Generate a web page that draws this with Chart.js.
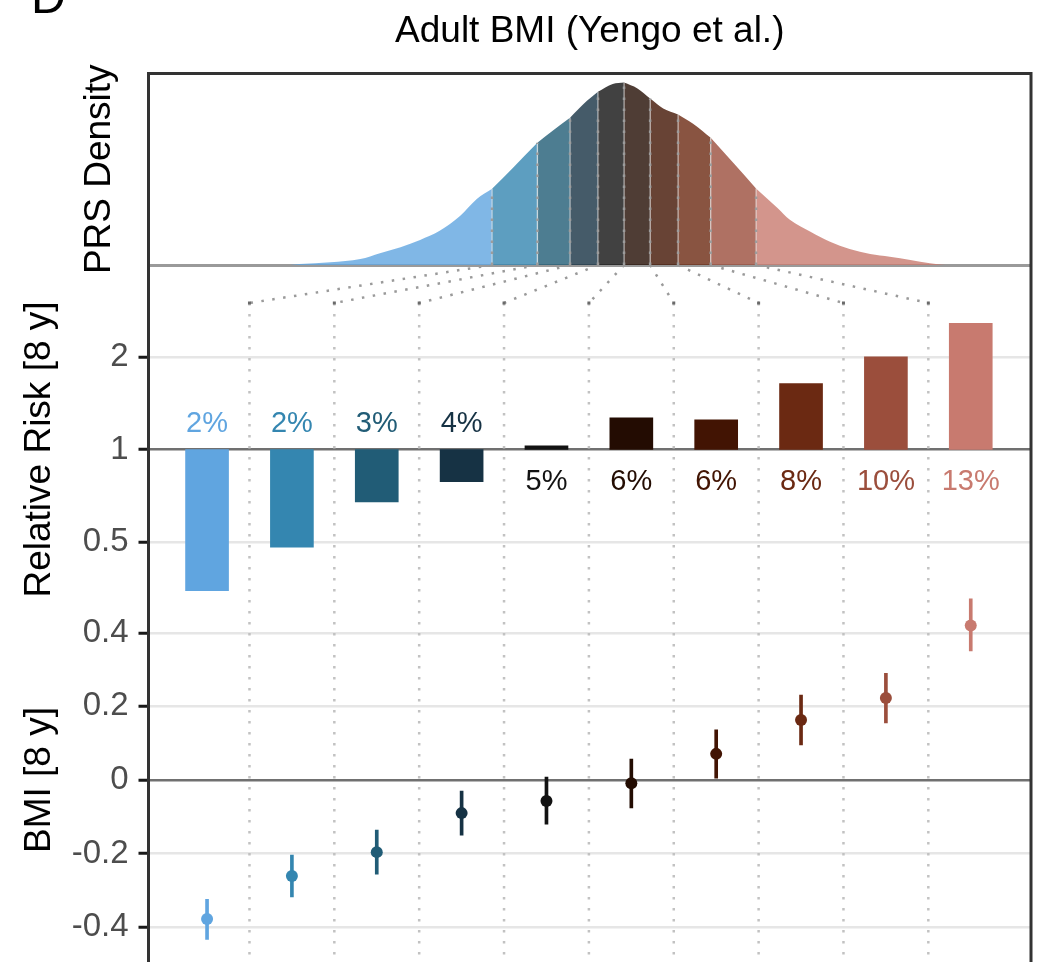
<!DOCTYPE html>
<html>
<head>
<meta charset="utf-8">
<script src="https://cdn.jsdelivr.net/npm/chart.js@4.4.1/dist/chart.umd.min.js"></script>
<style>
  html, body { margin: 0; padding: 0; background: #fff; overflow: hidden; }
  #wrap { position: relative; width: 1043px; height: 962px; overflow: hidden; }
  #panelTag { position: absolute; left: 31px; top: -27px; font-family: "Liberation Sans", Arial, sans-serif; font-size: 48px; line-height: 48px; color: #000; }
</style>
</head>
<body>
<div id="wrap">
  <canvas id="prsChart" width="1043" height="972"></canvas>
  <div id="panelTag">D</div>
</div>
<script>
// PRS deciles
var deciles = [1, 2, 3, 4, 5, 6, 7, 8, 9, 10]
var riskLabels = ['2%', '2%', '3%', '4%', '5%', '6%', '6%', '8%', '10%', '13%']

// relative risk per decile (8 y)
var relRisk = [0.347, 0.481, 0.675, 0.785, 1.027, 1.268, 1.249, 1.638, 2.005, 2.574]

// BMI change per decile (8 y) with interval
var bmiMean = [-0.378, -0.261, -0.196, -0.090, -0.057, -0.009, 0.071, 0.163, 0.223, 0.420]
var bmiLow = [-0.433, -0.318, -0.256, -0.150, -0.120, -0.076, 0.005, 0.095, 0.155, 0.351]
var bmiHigh = [-0.324, -0.204, -0.136, -0.030, 0.008, 0.057, 0.136, 0.231, 0.290, 0.492]

// PRS density curve (standardised score) and decile cut points
var densityX = [-3.24, -3.15, -2.85, -2.56, -2.37, -2.17, -1.98, -1.79, -1.59, -1.43, -1.2816, -1.08, -0.8416, -0.69, -0.5244, -0.36, -0.2533, -0.11, 0, 0.13, 0.2533, 0.38, 0.5244, 0.67, 0.8416, 1.06, 1.2816, 1.49, 1.61, 1.81, 2.0, 2.19, 2.39, 2.58, 2.78, 2.97, 3.12]
var densityY = [0, 0.002, 0.006, 0.013, 0.026, 0.039, 0.055, 0.075, 0.108, 0.145, 0.167, 0.213, 0.268, 0.295, 0.323, 0.360, 0.380, 0.397, 0.400, 0.387, 0.365, 0.343, 0.330, 0.310, 0.279, 0.224, 0.168, 0.125, 0.099, 0.073, 0.051, 0.035, 0.024, 0.018, 0.011, 0.004, 0]
var decileBreaks = [-1.2816, -0.8416, -0.5244, -0.2533, 0, 0.2533, 0.5244, 0.8416, 1.2816]

// axis ticks
var rrTicks = [0.5, 1, 2]
var bmiTicks = [-0.4, -0.2, 0, 0.2, 0.4]

var palette = ['#60a5e0', '#3486b0', '#215c76', '#163244', '#121212', '#230c02', '#421403', '#6b2912', '#9b4e3c', '#c87a6f']
var fontFamily = '"Liberation Sans", Arial, sans-serif'

function withAlpha(hex, a) {
  var n = parseInt(hex.slice(1), 16)
  return 'rgba(' + (n >> 16) + ',' + ((n >> 8) & 255) + ',' + (n & 255) + ',' + a + ')'
}

// split the density curve into the ten decile areas
function decileSegment(k) {
  var lo = k === 0 ? -Infinity : decileBreaks[k - 1]
  var hi = k === 9 ? Infinity : decileBreaks[k]
  var pts = []
  densityX.forEach(function (x, i) {
    if (x >= lo && x <= hi) pts.push({ x: x, y: densityY[i] })
  })
  return pts
}

// all stacked y axes share one width, no extra padding for edge labels
function fixWidth(scale) {
  scale.width = 147
  scale.paddingTop = 0
  scale.paddingBottom = 0
}

var datasets = []

// points + error bars (bottom panel)
datasets.push({
  type: 'line', label: 'BMI', xAxisID: 'x', yAxisID: 'yb',
  data: deciles.map(function (d, i) { return { x: d, y: bmiMean[i] } }),
  showLine: false, pointRadius: 6, pointBorderWidth: 0,
  pointBackgroundColor: palette, pointBorderColor: palette, order: 0
})
datasets.push({
  type: 'bar', label: 'BMI interval', xAxisID: 'x', yAxisID: 'yb',
  data: deciles.map(function (d, i) { return { x: d, y: [bmiLow[i], bmiHigh[i]] } }),
  backgroundColor: palette, barThickness: 3, grouped: false, order: 1
})

// relative risk bars (middle panel), drawn from 1
datasets.push({
  type: 'bar', label: 'Relative risk', xAxisID: 'x', yAxisID: 'yr',
  data: deciles.map(function (d, i) { return { x: d, y: [1, relRisk[i]] } }),
  backgroundColor: palette, barThickness: 43, grouped: false, order: 1
})

// density areas (top panel)
var densityStart = datasets.length
for (var k = 0; k < 10; k++) {
  datasets.push({
    type: 'line', label: 'Decile ' + (k + 1), xAxisID: 'xd', yAxisID: 'yd',
    data: decileSegment(k),
    fill: 'origin', backgroundColor: withAlpha(palette[k], 0.8),
    borderWidth: 0, pointRadius: 0, cubicInterpolationMode: 'monotone', order: 2
  })
}

var guides = {
  id: 'guides',
  beforeDatasetsDraw: function (chart) {
    var ctx = chart.ctx, s = chart.scales, area = chart.chartArea
    var yTop = s.yc.getPixelForValue(1), yBot = s.yc.getPixelForValue(0)
    ctx.save()
    ctx.lineWidth = 2.5
    ctx.setLineDash([2.5, 8.5])
    decileBreaks.forEach(function (b, k) {
      var bx = s.xd.getPixelForValue(b)
      var mx = s.x.getPixelForValue(k + 1.5)
      ctx.strokeStyle = '#9a9a9a'
      ctx.beginPath(); ctx.moveTo(bx, yTop); ctx.lineTo(mx, yBot); ctx.stroke()
      ctx.strokeStyle = '#c2c2c2'
      ctx.beginPath(); ctx.moveTo(mx, yBot); ctx.lineTo(mx, area.bottom); ctx.stroke()
      ctx.fillStyle = '#6a6a6a'
      ctx.fillRect(mx - 1.5, yBot - 1.5, 3, 3)
    })
    ctx.restore()
  },
  afterDatasetsDraw: function (chart) {
    var ctx = chart.ctx, s = chart.scales
    var base = s.yd.getPixelForValue(0)
    ctx.save()
    // decile boundaries inside the density
    decileBreaks.forEach(function (b, k) {
      var pt = chart.getDatasetMeta(densityStart + k + 1).data[0]
      ctx.setLineDash([])
      ctx.lineWidth = 1.5
      ctx.strokeStyle = 'rgba(235,235,235,0.5)'
      ctx.beginPath(); ctx.moveTo(pt.x, base); ctx.lineTo(pt.x, pt.y); ctx.stroke()
      ctx.setLineDash([2.5, 8.5])
      ctx.lineWidth = 2.5
      ctx.strokeStyle = '#9c9c9c'
      ctx.beginPath(); ctx.moveTo(pt.x, base); ctx.lineTo(pt.x, pt.y); ctx.stroke()
    })
    // percentage labels
    var one = s.yr.getPixelForValue(1)
    ctx.font = '29px ' + fontFamily
    ctx.textAlign = 'center'
    ctx.textBaseline = 'alphabetic'
    deciles.forEach(function (d, i) {
      ctx.fillStyle = palette[i]
      var y = relRisk[i] < 1 ? one - 18 : one + 40
      ctx.fillText(riskLabels[i], s.x.getPixelForValue(d), y)
    })
    ctx.restore()
  },
  afterDraw: function (chart) {
    var ctx = chart.ctx, area = chart.chartArea
    ctx.save()
    ctx.lineWidth = 3
    ctx.strokeStyle = '#333333'
    ctx.strokeRect(area.left, area.top, area.right - area.left, area.bottom - area.top)
    ctx.restore()
  }
}

var tickFont = { family: fontFamily, size: 33 }
var titleFont = { family: fontFamily, size: 37 }

new Chart(document.getElementById('prsChart'), {
  type: 'bar',
  data: { datasets: datasets },
  plugins: [guides],
  options: {
    responsive: false,
    animation: false,
    events: [],
    layout: { padding: { left: 1.5, right: 12, top: 0, bottom: 8 } },
    plugins: {
      legend: { display: false },
      tooltip: { enabled: false },
      title: {
        display: true, fullSize: false, text: 'Adult BMI (Yengo et al.)', color: '#000',
        font: { family: fontFamily, size: 37, weight: 'normal' },
        padding: { top: 9.8, bottom: 19.3 }
      }
    },
    // stacked y axes are placed bottom-up in the order below
    scales: {
      x: { type: 'linear', min: 0.31, max: 10.71, display: false, offset: false, grid: { offset: false } },
      xd: { type: 'linear', min: -4.617, max: 3.951, display: false, position: 'bottom', offset: false },
      yb: {
        type: 'linear', position: 'left', stack: 'panels', stackWeight: 368, min: -0.5, max: 0.5,
        afterBuildTicks: function (s) { s.ticks = bmiTicks.map(function (v) { return { value: v } }) },
        afterFit: fixWidth,
        ticks: { color: '#4d4d4d', font: tickFont, padding: 10, autoSkip: false, callback: function (v) { return String(v) } },
        grid: {
          color: function (c) { return c.tick && c.tick.value === 0 ? '#707070' : '#e6e6e6' },
          lineWidth: 2.5, tickLength: 10, tickColor: '#1a1a1a', tickWidth: 3
        },
        border: { display: false },
        title: { display: true, text: 'BMI [8 y]', color: '#000', font: titleFont, padding: { top: 16, bottom: 0 } }
      },
      yr: {
        type: 'logarithmic', position: 'left', stack: 'panels', stackWeight: 293, min: 1 / 3, max: 3, bounds: 'data',
        afterBuildTicks: function (s) {
          s.ticks = rrTicks.map(function (v) { return { value: v } })
          s.min = 1 / 3
          s.max = 3
        },
        afterFit: fixWidth,
        ticks: { color: '#4d4d4d', font: tickFont, padding: 10, autoSkip: false, callback: function (v) { return String(v) } },
        grid: {
          color: function (c) { return c.tick && c.tick.value === 1 ? '#707070' : '#e6e6e6' },
          lineWidth: 2.5, tickLength: 10, tickColor: '#1a1a1a', tickWidth: 3
        },
        border: { display: false },
        title: { display: true, text: 'Relative Risk [8 y]', color: '#000', font: titleFont, padding: { top: 16, bottom: 0 } }
      },
      yc: {
        type: 'linear', position: 'left', stack: 'panels', stackWeight: 38, min: 0, max: 1,
        afterBuildTicks: function (s) { s.ticks = [] },
        afterFit: fixWidth,
        ticks: { display: false },
        grid: { display: false },
        border: { display: false }
      },
      yd: {
        type: 'linear', position: 'left', stack: 'panels', stackWeight: 191.5, min: 0, max: 0.42,
        afterBuildTicks: function (s) { s.ticks = [{ value: 0 }] },
        afterFit: fixWidth,
        ticks: { display: false },
        grid: { color: '#9a9a9a', lineWidth: 3, drawTicks: false },
        border: { display: false },
        title: { display: true, text: 'PRS Density', color: '#000', font: titleFont, padding: { top: 76, bottom: 0 } }
      }
    }
  }
})
</script>
</body>
</html>
